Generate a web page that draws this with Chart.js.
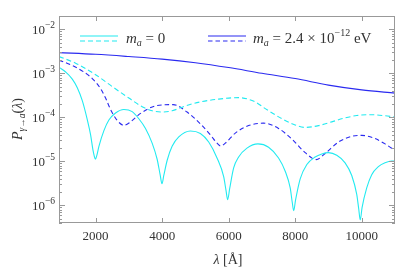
<!DOCTYPE html>
<html lang="en">
<head>
    <meta charset="UTF-8">
    <title>P gamma to a</title>
    <script src="https://cdn.jsdelivr.net/npm/chart.js"></script>
    <style>
        body { margin: 0; background: #fff; }
        canvas { display: block; }
    </style>
</head>
<body>
<canvas id="grafico" width="399" height="273"></canvas>
<script>
  // m_a = 0, solid
  var lamCiano = [900, 1100, 1300, 1450, 1600, 1750, 1850, 1920, 1960, 1995, 2035, 2100, 2250, 2400, 2600, 2850, 3100, 3300, 3500, 3700,
      3850, 3940, 3996, 4050, 4150, 4300, 4500, 4850, 5150, 5400, 5650, 5850, 5920, 5970, 6030, 6150, 6300, 6550, 6880, 7200,
      7500, 7700, 7850, 7910, 7955, 8010, 8150, 8350, 8600, 8800, 9000, 9250, 9500, 9700, 9850, 9910, 9955, 10010, 10150, 10300,
      10500, 10700, 10900, 11000];
  var pCiano = [1.38e-3, 1.07e-3, 7.4e-4, 4.7e-4, 2.4e-4, 8.9e-5, 4.0e-5, 1.82e-5, 1.32e-5, 1.12e-5, 1.35e-5, 2.2e-5, 5.0e-5, 8.7e-5, 1.26e-4, 1.51e-4, 1.35e-4, 9.3e-5, 5.6e-5, 2.6e-5,
      1.12e-5, 5.0e-6, 3.1e-6, 4.8e-6, 1.05e-5, 2.2e-5, 3.6e-5, 4.9e-5, 4.3e-5, 2.75e-5, 1.2e-5, 4.5e-6, 2.2e-6, 1.35e-6, 2.4e-6, 7.1e-6, 1.26e-5, 2.0e-5, 2.5e-5, 2.1e-5,
      1.2e-5, 6.0e-6, 2.5e-6, 1.2e-6, 7.6e-7, 1.32e-6, 4.0e-6, 8.5e-6, 1.26e-5, 1.48e-5, 1.58e-5, 1.38e-5, 9.3e-6, 4.8e-6, 1.78e-6, 8.3e-7, 4.7e-7, 8.9e-7, 2.5e-6, 5.0e-6,
      7.6e-6, 9.3e-6, 1.02e-5, 1.02e-5];

  // m_a = 0, dashed
  var lamCianoTrac = [900, 1400, 2000, 2500, 3000, 3400, 3700, 4000, 4300, 4700, 5150, 5700, 6300, 6800, 7100, 7600, 7900, 8300, 8700, 9100, 9450, 9850, 10250, 10650, 11000];
  var pCianoTrac = [2.4e-3, 1.7e-3, 9.3e-4, 5.0e-4, 2.75e-4, 1.74e-4, 1.41e-4, 1.32e-4, 1.41e-4, 1.82e-4, 2.24e-4, 2.6e-4, 2.8e-4, 2.24e-4, 1.58e-4, 9.3e-5, 7.2e-5, 5.9e-5, 6.5e-5, 7.9e-5, 9.5e-5, 1.1e-4, 1.15e-4, 1.1e-4, 1.02e-4];

  // m_a = 2.4e-12 eV, solid
  var lamAzul = [900, 2000, 3000, 4000, 5000, 6000, 7000, 8000, 9000, 10000, 11000];
  var pAzul = [2.95e-3, 2.7e-3, 2.4e-3, 2.1e-3, 1.74e-3, 1.35e-3, 1.0e-3, 7.6e-4, 5.4e-4, 4.2e-4, 3.55e-4];

  // m_a = 2.4e-12 eV, dashed
  var lamAzulTrac = [900, 1300, 1650, 1900, 2140, 2300, 2450, 2650, 2850, 3050, 3350, 3850, 4330, 4750, 5150, 5450, 5650, 5760, 5900, 6200,
      6600, 7040, 7500, 7900, 8300, 8630, 8900, 9300, 9700, 10000, 10400, 10700, 11000];
  var pAzulTrac = [2.0e-3, 1.51e-3, 1.07e-3, 7.6e-4, 4.6e-4, 2.75e-4, 1.51e-4, 8.5e-5, 6.6e-5, 7.9e-5, 1.23e-4, 1.86e-4, 1.95e-4, 1.32e-4, 7.1e-5, 4.0e-5, 2.6e-5, 2.24e-5, 2.6e-5, 4.4e-5,
      6.5e-5, 7.4e-5, 5.6e-5, 3.2e-5, 1.58e-5, 1.1e-5, 1.51e-5, 2.75e-5, 3.7e-5, 3.9e-5, 3.3e-5, 2.5e-5, 1.78e-5];

  var ticksX = [2000, 4000, 6000, 8000, 10000];
  var decadasY = [-6, -5, -4, -3, -2];

  var corCiano = '#22eaf0';
  var corAzul = '#2a2af0';
  var corEixo = '#999';
  var corTexto = '#333';
  var espessura = 1.1;

  function pontos(xs, ys) {
      return xs.map(function (x, i) { return { x: x, y: ys[i] }; });
  }

  // desenha uma sequencia de pedacos de texto (com sub/sobrescrito)
  function escreve(ctx, pedacos, x, y, alinhar) {
      var largura = 0;
      pedacos.forEach(function (p) { ctx.font = p.f; largura += ctx.measureText(p.t).width; });
      var cx = alinhar == 'right' ? x - largura : (alinhar == 'center' ? x - largura / 2 : x);
      pedacos.forEach(function (p) {
          ctx.font = p.f;
          ctx.fillText(p.t, cx, y + (p.dy || 0));
          cx += ctx.measureText(p.t).width;
      });
  }

  var serif = '"Liberation Serif", "DejaVu Serif", serif';

  var moldura = {
      id: 'moldura',
      afterDatasetsDraw: function (chart) {
          var ctx = chart.ctx;
          var a = chart.chartArea;
          var sx = chart.scales.x, sy = chart.scales.y;
          ctx.save();
          ctx.strokeStyle = corEixo;
          ctx.lineWidth = 1;
          ctx.strokeRect(a.left + 0.5, a.top + 0.5, a.right - a.left - 1, a.bottom - a.top - 1);

          ctx.beginPath();
          ticksX.forEach(function (v) {
              var px = Math.round(sx.getPixelForValue(v)) + 0.5;
              ctx.moveTo(px, a.bottom); ctx.lineTo(px, a.bottom - 5);
              ctx.moveTo(px, a.top); ctx.lineTo(px, a.top + 5);
          });
          for (var d = -7; d <= -2; d++) {
              for (var m = 1; m <= 9; m++) {
                  var v = m * Math.pow(10, d);
                  if (v < sy.min || v > sy.max) continue;
                  var py = Math.round(sy.getPixelForValue(v)) + 0.5;
                  var len = m == 1 ? 6 : 3;
                  ctx.moveTo(a.left, py); ctx.lineTo(a.left + len, py);
                  ctx.moveTo(a.right, py); ctx.lineTo(a.right - len, py);
              }
          }
          ctx.stroke();

          ctx.fillStyle = corTexto;
          ctx.textBaseline = 'alphabetic';
          ticksX.forEach(function (v) {
              escreve(ctx, [{ t: String(v), f: '13px ' + serif }], sx.getPixelForValue(v), a.bottom + 17, 'center');
          });
          decadasY.forEach(function (d) {
              var py = sy.getPixelForValue(Math.pow(10, d));
              escreve(ctx, [
                  { t: '10', f: '13px ' + serif },
                  { t: '\u2212' + (-d), f: '9.5px ' + serif, dy: -6 }
              ], a.left - 4, py + 5, 'right');
          });

          // titulo eixo x
          escreve(ctx, [
              { t: '\u03bb', f: 'italic 14px ' + serif },
              { t: ' [\u00c5]', f: '14px ' + serif }
          ], 228, 264, 'center');

          // titulo eixo y
          ctx.save();
          ctx.translate(22, 119);
          ctx.rotate(-Math.PI / 2);
          escreve(ctx, [
              { t: 'P', f: 'italic 14px ' + serif },
              { t: '\u03b3\u2192a', f: 'italic 9.5px ' + serif, dy: 3 },
              { t: '(', f: '14px ' + serif },
              { t: '\u03bb', f: 'italic 14px ' + serif },
              { t: ')', f: '14px ' + serif }
          ], 0, 0, 'center');
          ctx.restore();

          // legenda
          function amostra(x0, x1, cor, tracado) {
              ctx.strokeStyle = cor;
              ctx.lineWidth = espessura;
              ctx.setLineDash([]);
              ctx.beginPath(); ctx.moveTo(x0, 36); ctx.lineTo(x1, 36); ctx.stroke();
              ctx.setLineDash(tracado);
              ctx.beginPath(); ctx.moveTo(x0, 41); ctx.lineTo(x1, 41); ctx.stroke();
              ctx.setLineDash([]);
          }
          amostra(80, 118, corCiano, [5, 3]);
          amostra(208, 246, corAzul, [4.5, 3]);
          ctx.fillStyle = corTexto;
          escreve(ctx, [
              { t: 'm', f: 'italic 15px ' + serif },
              { t: 'a', f: 'italic 10px ' + serif, dy: 3 },
              { t: ' = 0', f: '15px ' + serif }
          ], 126, 43, 'left');
          escreve(ctx, [
              { t: 'm', f: 'italic 15px ' + serif },
              { t: 'a', f: 'italic 10px ' + serif, dy: 3 },
              { t: ' = 2.4 \u00d7 10', f: '15px ' + serif },
              { t: '\u221212', f: '10px ' + serif, dy: -7 },
              { t: ' eV', f: '15px ' + serif }
          ], 253, 43, 'left');
          ctx.restore();
      }
  };

  var config = {
      type: 'line',
      data: {
          datasets: [
              { label: 'm_a = 0', data: pontos(lamCiano, pCiano), borderColor: corCiano, borderWidth: espessura },
              { label: 'm_a = 0 (trac)', data: pontos(lamCianoTrac, pCianoTrac), borderColor: corCiano, borderWidth: espessura, borderDash: [5, 3] },
              { label: 'm_a = 2.4e-12 eV', data: pontos(lamAzul, pAzul), borderColor: corAzul, borderWidth: espessura },
              { label: 'm_a = 2.4e-12 eV (trac)', data: pontos(lamAzulTrac, pAzulTrac), borderColor: corAzul, borderWidth: espessura, borderDash: [4.5, 3] }
          ]
      },
      options: {
          responsive: false,
          animation: false,
          devicePixelRatio: 1,
          layout: { padding: { left: 59, right: 4, top: 16, bottom: 50 } },
          elements: {
              point: { radius: 0 },
              line: { cubicInterpolationMode: 'monotone', fill: false }
          },
          plugins: { legend: { display: false }, tooltip: { enabled: false } },
          scales: {
              x: { type: 'linear', min: 900, max: 11000, display: false },
              y: { type: 'logarithmic', min: 4e-7, max: 2e-2, display: false }
          }
      },
      plugins: [moldura]
  };

  new Chart(document.getElementById('grafico'), config);
</script>
</body>
</html>
